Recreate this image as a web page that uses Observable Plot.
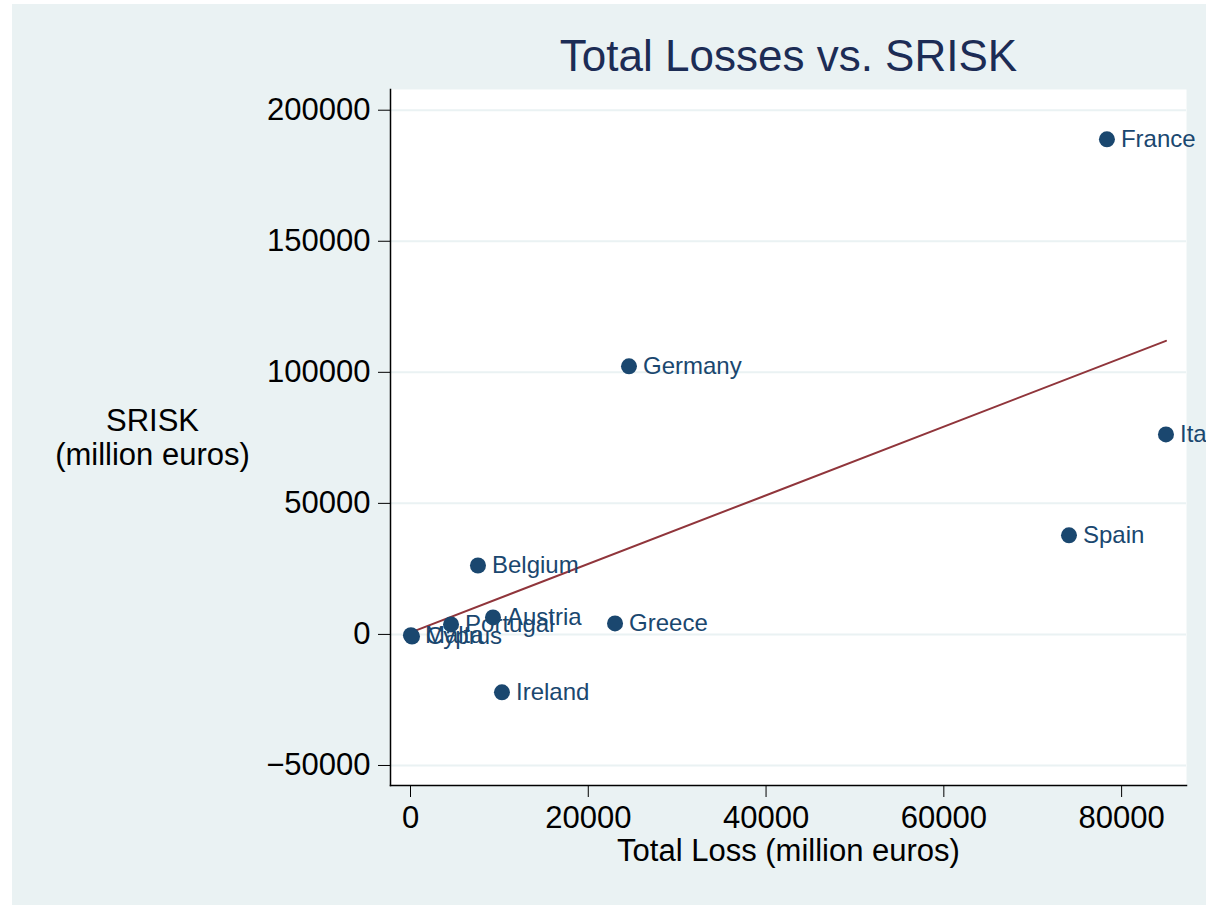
<!DOCTYPE html>
<html>
<head>
<meta charset="utf-8">
<script src="https://cdn.jsdelivr.net/npm/d3@7"></script>
<script src="https://cdn.jsdelivr.net/npm/@observablehq/plot@0.6"></script>
<style>
  html, body { margin: 0; padding: 0; background: #ffffff; }
  #wrap { position: relative; width: 1206px; height: 905px; overflow: hidden; }
  #panel { position: absolute; left: 12px; top: 4px; right: 0; bottom: 0; background: #eaf2f3; }
  #chart { position: absolute; left: 0; top: 0; }
  #chart svg { background: transparent; }
</style>
</head>
<body>
<div id="wrap">
  <div id="panel"></div>
  <div id="chart"></div>
</div>
<script>
// Countries with total losses and SRISK, both in million euros
const countries = ["France", "Germany", "Italy", "Spain", "Belgium", "Austria", "Portugal", "Greece", "Ireland", "Cyprus", "Malta"];
const totalLoss = [78350, 24580, 84990, 74080, 7590, 9280, 4560, 23010, 10290, 170, 50];
const srisk = [188900, 102300, 76300, 37800, 26300, 6500, 3800, 4200, -22100, -800, -300];

const yTicks = [-50000, 0, 50000, 100000, 150000, 200000];
const xTicks = [0, 20000, 40000, 60000, 80000];

const title = "Total Losses vs. SRISK";
const xTitle = "Total Loss (million euros)";
const yTitle = "SRISK\n(million euros)";

const data = countries.map((name, i) => ({name, loss: totalLoss[i], srisk: srisk[i]}));

const font = "'Liberation Sans', Arial, Helvetica, sans-serif";
const navy = "#1a476f";
const fmt = d => d < 0 ? "\u2212" + Math.abs(d) : String(d);

const chart = Plot.plot({
  width: 1206,
  height: 905,
  marginLeft: 390,
  marginRight: 20,
  marginTop: 89,
  marginBottom: 120,
  style: {fontFamily: font, background: "transparent", overflow: "visible"},
  x: {domain: [-2250, 87300], label: null},
  y: {domain: [-57640, 207900], label: null},
  marks: [
    Plot.frame({fill: "white", stroke: null}),
    Plot.gridY(yTicks, {stroke: "#eaf2f3", strokeOpacity: 1, strokeWidth: 2}),
    Plot.frame({anchor: "left", stroke: "black", strokeWidth: 1.5}),
    Plot.frame({anchor: "bottom", stroke: "black", strokeWidth: 1.5}),
    Plot.axisY(yTicks, {tickSize: 12, tickPadding: 8, fontSize: 31, tickFormat: fmt, stroke: "black", fill: "black"}),
    Plot.axisX(xTicks, {tickSize: 12, tickPadding: 8, fontSize: 31, tickFormat: fmt, stroke: "black", fill: "black"}),
    Plot.linearRegressionY(data, {x: "loss", y: "srisk", ci: 0, stroke: "#90353b", strokeWidth: 2}),
    Plot.dot(data, {x: "loss", y: "srisk", r: 8, fill: navy, stroke: null}),
    Plot.text(data, {x: "loss", y: "srisk", text: "name", dx: 14, textAnchor: "start", fontSize: 24, fill: navy}),
    Plot.text([title], {frameAnchor: "top", lineAnchor: "middle", dy: -33, fontSize: 44, fill: "#1c2c55"}),
    Plot.text([xTitle], {frameAnchor: "bottom", lineAnchor: "middle", dy: 66, fontSize: 31, fill: "black"}),
    Plot.text([yTitle], {frameAnchor: "left", lineAnchor: "middle", dx: -238, textAnchor: "middle", fontSize: 31, lineHeight: 1.1, fill: "black"})
  ]
});

document.getElementById("chart").appendChild(chart);
</script>
</body>
</html>
